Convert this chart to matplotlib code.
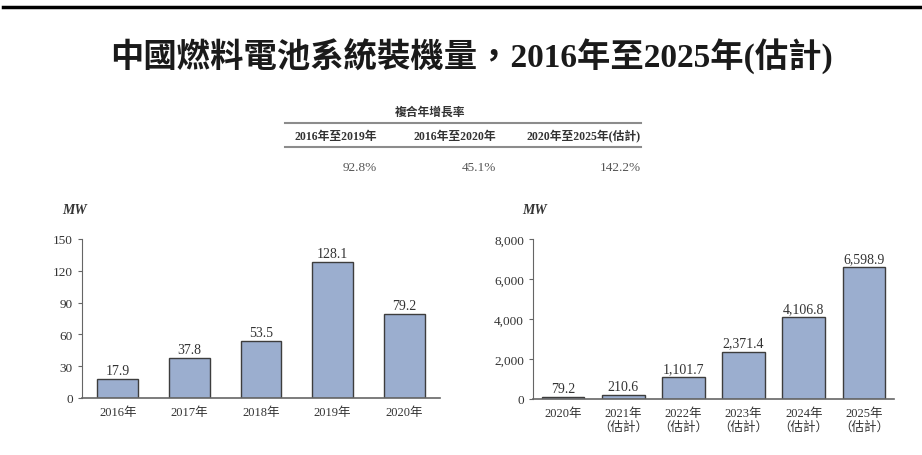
import matplotlib
matplotlib.use("Agg")
import matplotlib.pyplot as plt
from matplotlib.lines import Line2D

plt.rcParams['font.family'] = ['Liberation Serif', 'Noto Sans CJK TC']

# --- DATA ---
title = "中國燃料電池系統裝機量，2016年至2025年(估計)"
cagr_header = "複合年增長率"
cagr_periods = ["2016年至2019年", "2016年至2020年", "2020年至2025年(估計)"]
cagr_values = ["92.8%", "45.1%", "142.2%"]

hist_years = ["2016年", "2017年", "2018年", "2019年", "2020年"]
hist_mw = [17.9, 37.8, 53.5, 128.1, 79.2]

fcst_years = ["2020年", "2021年\n（估計）", "2022年\n（估計）", "2023年\n（估計）",
              "2024年\n（估計）", "2025年\n（估計）"]
fcst_mw = [79.2, 210.6, 1101.7, 2371.4, 4106.8, 6598.9]

W, H = 922, 456
fig = plt.figure(figsize=(W / 100, H / 100), dpi=100)

def px(x, y):
    return x / W, 1 - y / H

# top rule
fig.add_artist(Line2D([3 / W, 1], [1 - 8 / H] * 2, color='black', lw=2.5))

# title
fig.text(*px(471, 57), title, ha='center', va='center', fontsize=24,
         fontweight='bold', color='#1a1a1a')

# CAGR table
grey = '#8c8c8c'
fig.text(*px(430, 113), cagr_header, ha='center', va='center', fontsize=8.5,
         fontweight='bold', color='#333333')
for yy in (124, 148):
    fig.add_artist(Line2D([285 / W, 641 / W], [1 - yy / H] * 2, color=grey, lw=1.5))
col_right = [377, 496, 641]
for xr, per, val in zip(col_right, cagr_periods, cagr_values):
    fig.text(*px(xr, 137), per, ha='right', va='center', fontsize=8.5,
             fontweight='bold', color='#333333')
    fig.text(*px(xr, 168), val, ha='right', va='center', fontsize=9.5,
             color='#555555')

bar_face = '#9baecf'
bar_edge = '#3d3d3d'
tick_col = '#333333'


def style_axes(ax):
    for s in ('top', 'right'):
        ax.spines[s].set_visible(False)
    ax.spines['left'].set_color('#666666')
    ax.spines['bottom'].set_color('#666666')
    ax.spines['bottom'].set_linewidth(1.2)
    ax.tick_params(axis='x', length=0, pad=6, labelsize=9, colors=tick_col)
    ax.tick_params(axis='y', length=3, color='#666666', labelsize=9.5,
                   colors=tick_col)


# left chart
l0, b0 = px(82, 399)
ax1 = fig.add_axes([l0, b0, (440 - 82) / W, (399 - 240) / H])
x1 = range(len(hist_years))
ax1.bar(x1, hist_mw, width=0.57, color=bar_face, edgecolor=bar_edge, lw=1)
ax1.set_xlim(-0.5, len(hist_years) - 0.5)
ax1.set_ylim(0, 150)
ax1.set_yticks(range(0, 151, 30))
ax1.set_xticks(list(x1))
ax1.set_xticklabels(hist_years)
style_axes(ax1)
for xi, v in zip(x1, hist_mw):
    ax1.text(xi, v + 2, f"{v:,.1f}", ha='center', va='bottom', fontsize=10,
             color=tick_col)
fig.text(*px(62, 211), "MW", ha='left', va='center', fontsize=10,
         style='italic', fontweight='bold', color='#333333')

# right chart
l0, b0 = px(533, 400)
ax2 = fig.add_axes([l0, b0, (894 - 533) / W, 160 / H])
x2 = range(len(fcst_years))
ax2.bar(x2, fcst_mw, width=0.71, color=bar_face, edgecolor=bar_edge, lw=1)
ax2.set_xlim(-0.5, len(fcst_years) - 0.5)
ax2.set_ylim(0, 8000)
ax2.set_yticks(range(0, 8001, 2000))
ax2.set_yticklabels([f"{t:,}" for t in range(0, 8001, 2000)])
ax2.set_xticks(list(x2))
ax2.set_xticklabels(fcst_years, linespacing=1.1)
style_axes(ax2)
for xi, v in zip(x2, fcst_mw):
    ax2.text(xi, v + 100, f"{v:,.1f}", ha='center', va='bottom', fontsize=10,
             color=tick_col)
fig.text(*px(522, 211), "MW", ha='left', va='center', fontsize=10,
         style='italic', fontweight='bold', color='#333333')

fig.savefig("out.png", dpi=100, facecolor='white')
